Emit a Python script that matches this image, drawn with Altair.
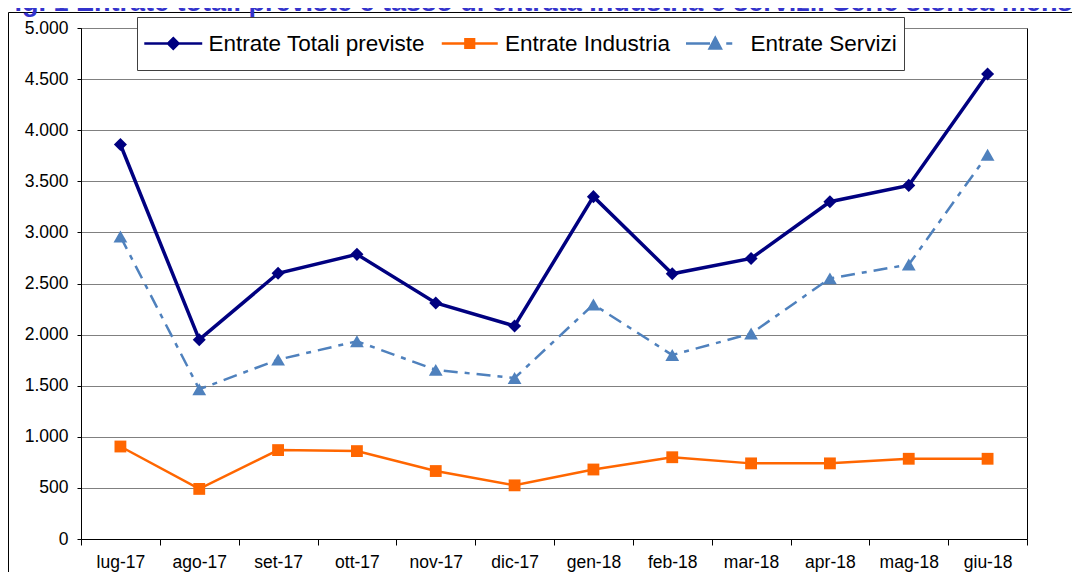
import altair as alt
import pandas as pd

mesi = ["lug-17", "ago-17", "set-17", "ott-17", "nov-17", "dic-17",
        "gen-18", "feb-18", "mar-18", "apr-18", "mag-18", "giu-18"]
totali = [3860, 1950, 2600, 2785, 2310, 2085, 3350, 2595, 2745, 3300, 3460, 4550]
industria = [905, 490, 870, 860, 665, 525, 680, 800, 740, 740, 785, 785]
servizi = [2960, 1465, 1755, 1935, 1655, 1575, 2295, 1800, 2010, 2550, 2685, 3760]
serie = ["Entrate Totali previste", "Entrate Industria", "Entrate Servizi"]
colori = ["#000080", "#FF6600", "#4F81BD"]
y_ticks = [0, 500, 1000, 1500, 2000, 2500, 3000, 3500, 4000, 4500, 5000]
titolo = "Fig. 1 Entrate totali previste e tasso di entrata Industria e servizi. Serie storica mensile"

rows = []
for s, vals in zip(serie, [totali, industria, servizi]):
    for m, v in zip(mesi, vals):
        rows.append({"mese": m, "serie": s, "valore": v})
df = pd.DataFrame(rows)

FONT = "Liberation Sans"

X = alt.X("mese:N",
          scale=alt.Scale(type="band", domain=mesi, paddingInner=0, paddingOuter=0),
          bandPosition=0.5,
          axis=alt.Axis(title=None, labelAngle=0, tickBand="extent", tickSize=6,
                        labelPadding=8, labelFontSize=17.5, labelFont=FONT,
                        labelColor="black", domainColor="black", tickColor="black",
                        grid=False))
Y = alt.Y("valore:Q",
          scale=alt.Scale(domain=[0, 5000], nice=False),
          axis=alt.Axis(title=None, values=y_ticks,
                        labelExpr="replace(format(datum.value, ','), ',', '.')",
                        tickSize=4, labelPadding=9, labelFontSize=17.5, labelFont=FONT,
                        labelColor="black", domainColor="black", tickColor="black",
                        grid=True, gridColor="#808080", gridWidth=1))

base = alt.Chart(df)

styles = {
    "Entrate Totali previste": dict(width=3.5, dash=None, shape="diamond", size=170),
    "Entrate Industria": dict(width=2.5, dash=None, shape="square", size=140),
    "Entrate Servizi": dict(width=2.5, dash=[14, 7, 5, 7], shape="triangle-up", size=190),
}

layers = []
for s, c in zip(serie, colori):
    st = styles[s]
    kw = dict(color=c, strokeWidth=st["width"])
    if st["dash"]:
        kw["strokeDash"] = st["dash"]
    layers.append(base.transform_filter(alt.datum.serie == s).mark_line(**kw).encode(x=X, y=Y))
for s, c in zip(serie, colori):
    st = styles[s]
    layers.append(base.transform_filter(alt.datum.serie == s)
                  .mark_point(filled=True, opacity=1, shape=st["shape"], size=st["size"], color=c)
                  .encode(x=X, y=Y))

# legend symbols: line segment + marker (custom paths, unit = 7px)
paths = [
    "M-4.14,0H4.14M0,-0.75L0.75,0L0,0.75L-0.75,0Z",
    "M-4.0,0H4.0M-0.62,-0.62H0.62V0.62H-0.62Z",
    "M-4.29,0H-0.75M1.57,0H2.43M0,-0.8L0.8,0.7L-0.8,0.7Z",
]
leg = alt.Legend(title=None, orient="none", legendX=56, legendY=-11, direction="horizontal",
                 fillColor="white", strokeColor="#404040", padding=7, clipHeight=39,
                 labelFont=FONT, labelFontSize=22.5, labelColor="black", labelLimit=400,
                 symbolSize=196, symbolStrokeWidth=2.5, symbolOffset=18, labelOffset=24,
                 columnPadding=15.5, symbolOpacity=1, zindex=1)
leg_df = pd.DataFrame({"serie": serie})
legend_layer = (alt.Chart(leg_df).transform_filter("false")
                .mark_point(filled=True, opacity=1, size=196)
                .encode(shape=alt.Shape("serie:N", scale=alt.Scale(domain=serie, range=paths), legend=leg),
                        fill=alt.Fill("serie:N", scale=alt.Scale(domain=serie, range=colori), legend=leg),
                        stroke=alt.Stroke("serie:N", scale=alt.Scale(domain=serie, range=colori), legend=leg)))
layers.append(legend_layer)

frame_df = pd.DataFrame({"t": [titolo]})
fr = alt.Chart(frame_df)
layers.append(fr.mark_rule(color="black", strokeWidth=1).encode(
    x=alt.value(-72.5), y=alt.value(-15.5), y2=alt.value(560)))
layers.append(fr.mark_rule(color="black", strokeWidth=1).encode(
    x=alt.value(-72.5), x2=alt.value(1000), y=alt.value(-15.5)))
layers.append(fr.mark_text(align="left", baseline="alphabetic", fontSize=27, fontWeight="bold",
                           color="#3333CC", font=FONT).encode(
    x=alt.value(-83), y=alt.value(-17.5), text="t:N"))

chart = (alt.layer(*layers)
         .properties(width=946, height=511,
                     autosize=alt.AutoSizeParams(type="none"),
                     padding={"left": 73, "top": 20, "right": 45, "bottom": 33},
                     background="white")
         .configure_view(stroke="black", strokeWidth=1))

chart.save("out.html", embed_options={"renderer": "svg", "actions": False})
